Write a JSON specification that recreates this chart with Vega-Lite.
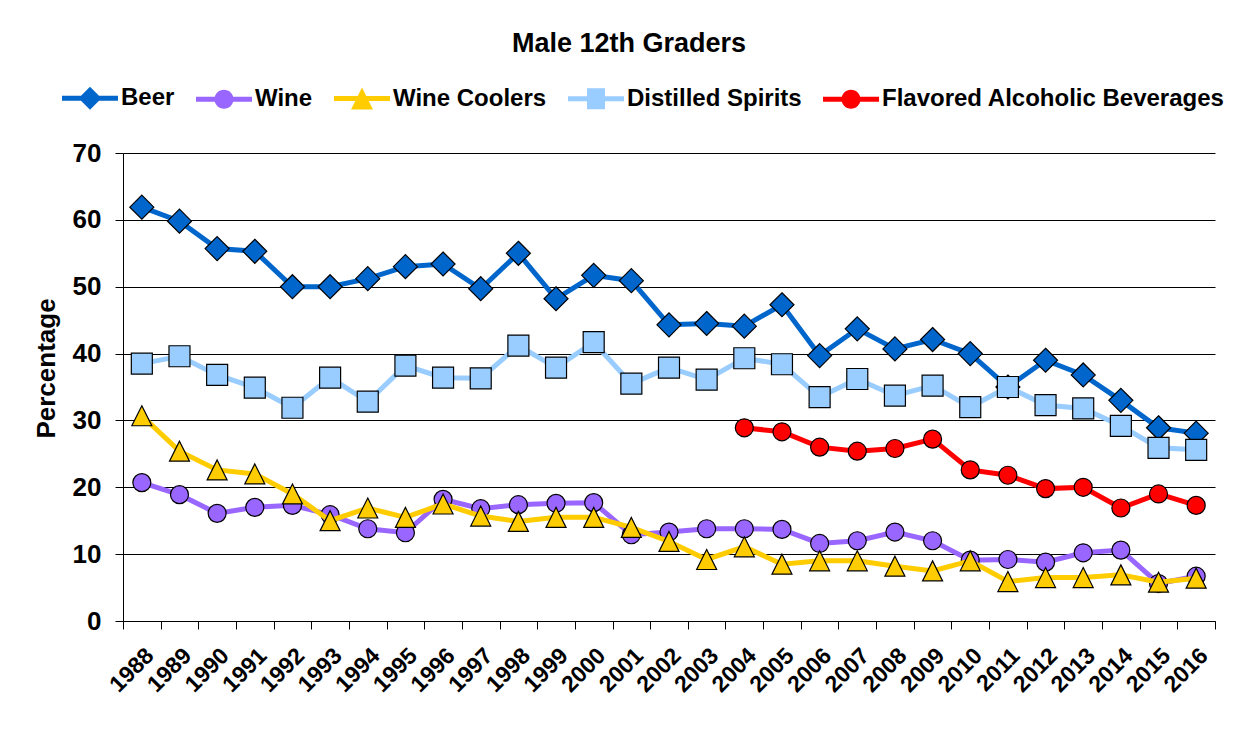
{
  "$schema": "https://vega.github.io/schema/vega-lite/v6.json",
  "width": 1092,
  "height": 468,
  "autosize": {"type": "none"},
  "padding": {"left": 123, "top": 153, "right": 37, "bottom": 115},
  "background": "white",
  "title": {
    "text": "Male 12th Graders",
    "font": "Liberation Sans",
    "fontSize": 27,
    "fontWeight": "bold",
    "color": "black",
    "anchor": "middle",
    "frame": "group",
    "dx": -40,
    "offset": 28
  },
  "data": {
    "values": [
      {"year": "1988", "series": "Beer", "value": 61.9},
      {"year": "1989", "series": "Beer", "value": 59.8},
      {"year": "1990", "series": "Beer", "value": 55.7},
      {"year": "1991", "series": "Beer", "value": 55.3},
      {"year": "1992", "series": "Beer", "value": 50.0},
      {"year": "1993", "series": "Beer", "value": 50.0},
      {"year": "1994", "series": "Beer", "value": 51.2},
      {"year": "1995", "series": "Beer", "value": 53.0},
      {"year": "1996", "series": "Beer", "value": 53.4},
      {"year": "1997", "series": "Beer", "value": 49.7},
      {"year": "1998", "series": "Beer", "value": 55.0},
      {"year": "1999", "series": "Beer", "value": 48.2},
      {"year": "2000", "series": "Beer", "value": 51.7},
      {"year": "2001", "series": "Beer", "value": 50.9},
      {"year": "2002", "series": "Beer", "value": 44.3},
      {"year": "2003", "series": "Beer", "value": 44.5},
      {"year": "2004", "series": "Beer", "value": 44.1},
      {"year": "2005", "series": "Beer", "value": 47.3},
      {"year": "2006", "series": "Beer", "value": 39.7},
      {"year": "2007", "series": "Beer", "value": 43.7},
      {"year": "2008", "series": "Beer", "value": 40.7},
      {"year": "2009", "series": "Beer", "value": 42.1},
      {"year": "2010", "series": "Beer", "value": 40.0},
      {"year": "2011", "series": "Beer", "value": 35.0},
      {"year": "2012", "series": "Beer", "value": 39.0},
      {"year": "2013", "series": "Beer", "value": 36.8},
      {"year": "2014", "series": "Beer", "value": 33.0},
      {"year": "2015", "series": "Beer", "value": 28.9},
      {"year": "2016", "series": "Beer", "value": 28.1},
      {"year": "1988", "series": "Wine", "value": 20.7},
      {"year": "1989", "series": "Wine", "value": 18.9},
      {"year": "1990", "series": "Wine", "value": 16.1},
      {"year": "1991", "series": "Wine", "value": 17.0},
      {"year": "1992", "series": "Wine", "value": 17.3},
      {"year": "1993", "series": "Wine", "value": 15.9},
      {"year": "1994", "series": "Wine", "value": 13.8},
      {"year": "1995", "series": "Wine", "value": 13.2},
      {"year": "1996", "series": "Wine", "value": 18.2},
      {"year": "1997", "series": "Wine", "value": 16.8},
      {"year": "1998", "series": "Wine", "value": 17.4},
      {"year": "1999", "series": "Wine", "value": 17.6},
      {"year": "2000", "series": "Wine", "value": 17.7},
      {"year": "2001", "series": "Wine", "value": 12.9},
      {"year": "2002", "series": "Wine", "value": 13.3},
      {"year": "2003", "series": "Wine", "value": 13.8},
      {"year": "2004", "series": "Wine", "value": 13.8},
      {"year": "2005", "series": "Wine", "value": 13.7},
      {"year": "2006", "series": "Wine", "value": 11.6},
      {"year": "2007", "series": "Wine", "value": 12.0},
      {"year": "2008", "series": "Wine", "value": 13.3},
      {"year": "2009", "series": "Wine", "value": 12.0},
      {"year": "2010", "series": "Wine", "value": 9.1},
      {"year": "2011", "series": "Wine", "value": 9.2},
      {"year": "2012", "series": "Wine", "value": 8.8},
      {"year": "2013", "series": "Wine", "value": 10.2},
      {"year": "2014", "series": "Wine", "value": 10.6},
      {"year": "2015", "series": "Wine", "value": 5.6},
      {"year": "2016", "series": "Wine", "value": 6.7},
      {"year": "1988", "series": "Wine Coolers", "value": 30.7},
      {"year": "1989", "series": "Wine Coolers", "value": 25.4},
      {"year": "1990", "series": "Wine Coolers", "value": 22.6},
      {"year": "1991", "series": "Wine Coolers", "value": 22.0},
      {"year": "1992", "series": "Wine Coolers", "value": 19.0},
      {"year": "1993", "series": "Wine Coolers", "value": 15.0},
      {"year": "1994", "series": "Wine Coolers", "value": 16.9},
      {"year": "1995", "series": "Wine Coolers", "value": 15.5},
      {"year": "1996", "series": "Wine Coolers", "value": 17.5},
      {"year": "1997", "series": "Wine Coolers", "value": 15.7},
      {"year": "1998", "series": "Wine Coolers", "value": 14.9},
      {"year": "1999", "series": "Wine Coolers", "value": 15.5},
      {"year": "2000", "series": "Wine Coolers", "value": 15.5},
      {"year": "2001", "series": "Wine Coolers", "value": 14.0},
      {"year": "2002", "series": "Wine Coolers", "value": 11.9},
      {"year": "2003", "series": "Wine Coolers", "value": 9.2},
      {"year": "2004", "series": "Wine Coolers", "value": 11.1},
      {"year": "2005", "series": "Wine Coolers", "value": 8.5},
      {"year": "2006", "series": "Wine Coolers", "value": 9.0},
      {"year": "2007", "series": "Wine Coolers", "value": 9.0},
      {"year": "2008", "series": "Wine Coolers", "value": 8.2},
      {"year": "2009", "series": "Wine Coolers", "value": 7.5},
      {"year": "2010", "series": "Wine Coolers", "value": 9.0},
      {"year": "2011", "series": "Wine Coolers", "value": 5.9},
      {"year": "2012", "series": "Wine Coolers", "value": 6.5},
      {"year": "2013", "series": "Wine Coolers", "value": 6.5},
      {"year": "2014", "series": "Wine Coolers", "value": 6.9},
      {"year": "2015", "series": "Wine Coolers", "value": 5.8},
      {"year": "2016", "series": "Wine Coolers", "value": 6.4},
      {"year": "1988", "series": "Distilled Spirits", "value": 38.5},
      {"year": "1989", "series": "Distilled Spirits", "value": 39.6},
      {"year": "1990", "series": "Distilled Spirits", "value": 36.8},
      {"year": "1991", "series": "Distilled Spirits", "value": 34.9},
      {"year": "1992", "series": "Distilled Spirits", "value": 31.9},
      {"year": "1993", "series": "Distilled Spirits", "value": 36.4},
      {"year": "1994", "series": "Distilled Spirits", "value": 32.8},
      {"year": "1995", "series": "Distilled Spirits", "value": 38.2},
      {"year": "1996", "series": "Distilled Spirits", "value": 36.4},
      {"year": "1997", "series": "Distilled Spirits", "value": 36.3},
      {"year": "1998", "series": "Distilled Spirits", "value": 41.2},
      {"year": "1999", "series": "Distilled Spirits", "value": 37.9},
      {"year": "2000", "series": "Distilled Spirits", "value": 41.7},
      {"year": "2001", "series": "Distilled Spirits", "value": 35.5},
      {"year": "2002", "series": "Distilled Spirits", "value": 37.9},
      {"year": "2003", "series": "Distilled Spirits", "value": 36.1},
      {"year": "2004", "series": "Distilled Spirits", "value": 39.3},
      {"year": "2005", "series": "Distilled Spirits", "value": 38.4},
      {"year": "2006", "series": "Distilled Spirits", "value": 33.5},
      {"year": "2007", "series": "Distilled Spirits", "value": 36.2},
      {"year": "2008", "series": "Distilled Spirits", "value": 33.7},
      {"year": "2009", "series": "Distilled Spirits", "value": 35.2},
      {"year": "2010", "series": "Distilled Spirits", "value": 32.0},
      {"year": "2011", "series": "Distilled Spirits", "value": 35.0},
      {"year": "2012", "series": "Distilled Spirits", "value": 32.3},
      {"year": "2013", "series": "Distilled Spirits", "value": 31.8},
      {"year": "2014", "series": "Distilled Spirits", "value": 29.2},
      {"year": "2015", "series": "Distilled Spirits", "value": 25.9},
      {"year": "2016", "series": "Distilled Spirits", "value": 25.6},
      {"year": "2004", "series": "Flavored Alcoholic Beverages", "value": 28.9},
      {"year": "2005", "series": "Flavored Alcoholic Beverages", "value": 28.3},
      {"year": "2006", "series": "Flavored Alcoholic Beverages", "value": 26.0},
      {"year": "2007", "series": "Flavored Alcoholic Beverages", "value": 25.4},
      {"year": "2008", "series": "Flavored Alcoholic Beverages", "value": 25.8},
      {"year": "2009", "series": "Flavored Alcoholic Beverages", "value": 27.2},
      {"year": "2010", "series": "Flavored Alcoholic Beverages", "value": 22.6},
      {"year": "2011", "series": "Flavored Alcoholic Beverages", "value": 21.8},
      {"year": "2012", "series": "Flavored Alcoholic Beverages", "value": 19.8},
      {"year": "2013", "series": "Flavored Alcoholic Beverages", "value": 20.0},
      {"year": "2014", "series": "Flavored Alcoholic Beverages", "value": 16.9},
      {"year": "2015", "series": "Flavored Alcoholic Beverages", "value": 19.0},
      {"year": "2016", "series": "Flavored Alcoholic Beverages", "value": 17.3}
    ]
  },
  "encoding": {
    "x": {
      "field": "year",
      "type": "ordinal",
      "scale": {"type": "band", "paddingInner": 0, "paddingOuter": 0},
      "axis": {
        "title": null,
        "labelAngle": -45,
        "labelFont": "Liberation Sans",
        "labelFontSize": 23,
        "labelFontWeight": "bold",
        "labelColor": "black",
        "labelPadding": 15,
        "labelOverlap": false,
        "domainColor": "black",
        "domainWidth": 1,
        "tickColor": "black",
        "tickSize": 8,
        "tickBand": "extent",
        "grid": false
      }
    },
    "y": {
      "field": "value",
      "type": "quantitative",
      "scale": {"domain": [0, 70], "nice": false},
      "axis": {
        "title": "Percentage",
        "values": [0, 10, 20, 30, 40, 50, 60, 70],
        "titleFont": "Liberation Sans",
        "titleFontSize": 26,
        "titleFontWeight": "bold",
        "titleColor": "black",
        "titlePadding": 13,
        "titleY": 215,
        "labelFont": "Liberation Sans",
        "labelFontSize": 26,
        "labelFontWeight": "bold",
        "labelColor": "black",
        "labelPadding": 14,
        "tickSize": 8,
        "tickColor": "black",
        "domainColor": "black",
        "grid": true,
        "gridColor": "black",
        "gridWidth": 1
      }
    }
  },
  "layer": [
    {
      "transform": [{"filter": {"field": "series", "equal": "Beer"}}],
      "mark": {"type": "line", "strokeWidth": 5, "color": "#0066CC"}
    },
    {
      "transform": [{"filter": {"field": "series", "equal": "Beer"}}],
      "mark": {"type": "point", "shape": "M0,-1.2L1.2,0L0,1.2L-1.2,0Z", "filled": true, "fill": "#0066CC", "opacity": 1, "stroke": "black", "strokeWidth": 1.2, "size": 400}
    },
    {
      "transform": [{"filter": {"field": "series", "equal": "Wine"}}],
      "mark": {"type": "line", "strokeWidth": 5, "color": "#9966FF"}
    },
    {
      "transform": [{"filter": {"field": "series", "equal": "Wine"}}],
      "mark": {"type": "point", "shape": "M-0.9,0A0.9,0.9 0 1,0 0.9,0A0.9,0.9 0 1,0 -0.9,0Z", "filled": true, "fill": "#9966FF", "opacity": 1, "stroke": "black", "strokeWidth": 1.2, "size": 400}
    },
    {
      "transform": [{"filter": {"field": "series", "equal": "Wine Coolers"}}],
      "mark": {"type": "line", "strokeWidth": 5, "color": "#FFCC00"}
    },
    {
      "transform": [{"filter": {"field": "series", "equal": "Wine Coolers"}}],
      "mark": {"type": "point", "shape": "M0,-1L1,1L-1,1Z", "filled": true, "fill": "#FFCC00", "opacity": 1, "stroke": "black", "strokeWidth": 1.2, "size": 400}
    },
    {
      "transform": [{"filter": {"field": "series", "equal": "Distilled Spirits"}}],
      "mark": {"type": "line", "strokeWidth": 5, "color": "#99CCFF"}
    },
    {
      "transform": [{"filter": {"field": "series", "equal": "Distilled Spirits"}}],
      "mark": {"type": "point", "shape": "M-1.05,-1.05H1.05V1.05H-1.05Z", "filled": true, "fill": "#99CCFF", "opacity": 1, "stroke": "black", "strokeWidth": 1.2, "size": 400}
    },
    {
      "transform": [{"filter": {"field": "series", "equal": "Flavored Alcoholic Beverages"}}],
      "mark": {"type": "line", "strokeWidth": 5, "color": "#FF0000"}
    },
    {
      "transform": [{"filter": {"field": "series", "equal": "Flavored Alcoholic Beverages"}}],
      "mark": {"type": "point", "shape": "M-0.9,0A0.9,0.9 0 1,0 0.9,0A0.9,0.9 0 1,0 -0.9,0Z", "filled": true, "fill": "#FF0000", "opacity": 1, "stroke": "black", "strokeWidth": 1.2, "size": 400}
    },
    {
      "mark": {"type": "point", "filled": true, "opacity": 1, "size": 0},
      "encoding": {
        "color": {
          "field": "series",
          "type": "nominal",
          "sort": null,
          "scale": {
            "domain": ["Beer", "Wine", "Wine Coolers", "Distilled Spirits", "Flavored Alcoholic Beverages"],
            "range": ["#0066CC", "#9966FF", "#FFCC00", "#99CCFF", "#FF0000"]
          },
          "legend": {
            "orient": "none",
            "legendX": -61,
            "legendY": -67,
            "direction": "horizontal",
            "columns": 5,
            "title": null,
            "labelFont": "Liberation Sans",
            "labelFontSize": 24,
            "labelFontWeight": "bold",
            "labelColor": "black",
            "labelLimit": 0,
            "symbolSize": 400,
            "symbolOpacity": 1,
            "symbolOffset": 16,
            "labelOffset": 19,
            "columnPadding": 18
          }
        },
        "shape": {
          "field": "series",
          "type": "nominal",
          "sort": null,
          "scale": {
            "domain": ["Beer", "Wine", "Wine Coolers", "Distilled Spirits", "Flavored Alcoholic Beverages"],
            "range": [
              "M-2.8,-0.25H2.8V0.25H-2.8ZM0,-1.15L1.15,0L0,1.15L-1.15,0Z",
              "M-2.8,-0.25H2.8V0.25H-2.8ZM-0.95,0A0.95,0.95 0 1,1 0.95,0A0.95,0.95 0 1,1 -0.95,0Z",
              "M-2.8,-0.25H2.8V0.25H-2.8ZM0,-1.1L1.1,1.1L-1.1,1.1Z",
              "M-2.8,-0.25H2.8V0.25H-2.8ZM-0.9,-1.05H0.9V1.05H-0.9Z",
              "M-2.8,-0.25H2.8V0.25H-2.8ZM-0.95,0A0.95,0.95 0 1,1 0.95,0A0.95,0.95 0 1,1 -0.95,0Z"
            ]
          },
          "legend": {
            "orient": "none",
            "legendX": -61,
            "legendY": -67,
            "direction": "horizontal",
            "columns": 5,
            "title": null,
            "labelFont": "Liberation Sans",
            "labelFontSize": 24,
            "labelFontWeight": "bold",
            "labelColor": "black",
            "labelLimit": 0,
            "symbolSize": 400,
            "symbolOpacity": 1,
            "symbolOffset": 16,
            "labelOffset": 19,
            "columnPadding": 18
          }
        }
      }
    }
  ],
  "config": {
    "view": {"stroke": null},
    "font": "Liberation Sans"
  }
}
